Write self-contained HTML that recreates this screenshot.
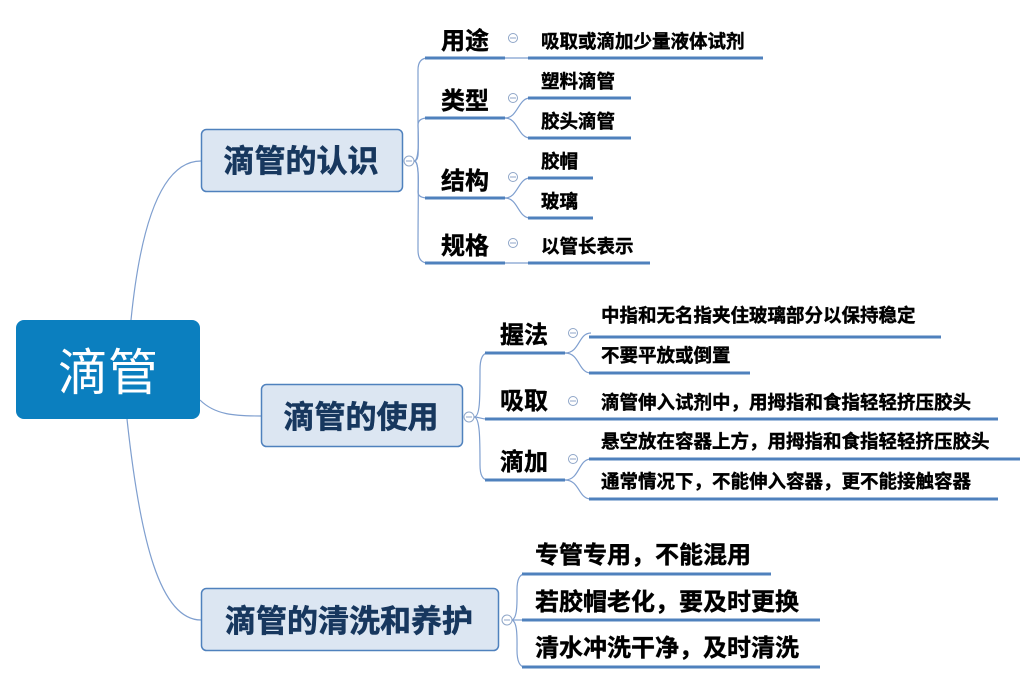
<!DOCTYPE html>
<html><head><meta charset="utf-8"><style>
html,body{margin:0;padding:0;background:#fff;}
svg{display:block;}
text{font-family:"Liberation Sans","Noto Sans CJK SC",sans-serif;font-weight:bold;fill:#000;stroke:#000;stroke-width:0.4;}
</style></head><body>
<svg width="1032" height="683" viewBox="0 0 1032 683" xmlns="http://www.w3.org/2000/svg">
<g fill="none" stroke="#7f9fcf" stroke-width="1.2">
<path d="M131 320 C140 230 160 161 201 161"/>
<path d="M200 400 C215 415 235 416 261 416"/>
<path d="M127 419 C140 540 160 620 201 620"/>
<path d="M414 161 C420 161 418 150 418 120 L418 70 Q418 58 428 58"/>
<path d="M414 161 C420 161 418 130 418 125 Q418 118 428 118"/>
<path d="M414 161 C420 161 418 190 418 192 Q418 198 428 198"/>
<path d="M414 161 C420 161 418 180 418 250 Q418 263 428 263"/>
<path d="M505 58 L528 58"/>
<path d="M505 118 C518 118 518 98 530 98"/><path d="M505 118 C518 118 518 138 530 138"/>
<path d="M505 198 C518 198 518 178 530 178"/><path d="M505 198 C518 198 518 218 530 218"/>
<path d="M505 263 L528 263"/>
<path d="M474 417 C480 417 480 400 480 370 Q480 353 488 353"/>
<path d="M474 417 C480 417 480 419 488 419"/>
<path d="M474 417 C480 417 480 440 480 465 Q480 480 488 480"/>
<path d="M565 353 C580 353 578 333 591 333"/><path d="M565 353 C580 353 578 373 591 373"/>
<path d="M565 480 C580 480 578 459 591 459"/><path d="M565 480 C580 480 578 499 591 499"/>
<path d="M511 620 C518 620 517 600 517 590 Q517 574 525 574"/>
<path d="M511 620 L525 620"/>
<path d="M511 620 C518 620 517 640 517 650 Q517 667 525 667"/>
</g>
<g stroke="#4f81bd" stroke-width="3" fill="none">
<path d="M425 58H505M528 58H763"/>
<path d="M425 118H505M528 98H631M528 138H631"/>
<path d="M425 198H505M528 178H593M528 218H593"/>
<path d="M425 263H505M528 263H650"/>
<path d="M485 353H565M589 337H941M589 373H750"/>
<path d="M485 419H589M589 419H998"/>
<path d="M485 480H565M589 459H1020M589 499H998"/>
<path d="M522 574H771M522 620H820M522 667H820"/>
</g>
<g fill="#fff" stroke="#8fa6c8" stroke-width="1">
<circle cx="409" cy="161" r="5"/><circle cx="469" cy="417" r="5"/><circle cx="507" cy="620" r="5"/>
<circle cx="513" cy="38" r="4.5"/><circle cx="513" cy="98" r="4.5"/><circle cx="513" cy="177" r="4.5"/><circle cx="513" cy="243" r="4.5"/>
<circle cx="573" cy="333" r="4.5"/><circle cx="573" cy="401" r="4.5"/><circle cx="573" cy="459" r="4.5"/>
</g>
<g stroke="#8fa6c8" stroke-width="1">
<path d="M406 161h6M466 417h6M504 620h6M510 38h6M510 98h6M510 177h6M510 243h6M570 333h6M570 401h6M570 459h6"/>
</g>
<rect x="16" y="320" width="184" height="99" rx="8" fill="#0b7fbf"/>
<text x="108" y="390" font-size="50" text-anchor="middle" style="fill:#fff;stroke:none;font-weight:normal">滴管</text>
<rect x="201.5" y="129.5" width="201" height="62" rx="5" fill="#dce6f2" stroke="#4f81bd" stroke-width="1.5"/>
<text x="301" y="172" font-size="31" text-anchor="middle" style="fill:#17375e;stroke:#17375e;stroke-width:0.6">滴管的认识</text>
<rect x="261.5" y="384.5" width="201" height="62" rx="5" fill="#dce6f2" stroke="#4f81bd" stroke-width="1.5"/>
<text x="361" y="428" font-size="31" text-anchor="middle" style="fill:#17375e;stroke:#17375e;stroke-width:0.6">滴管的使用</text>
<rect x="201.5" y="588.5" width="297" height="62" rx="5" fill="#dce6f2" stroke="#4f81bd" stroke-width="1.5"/>
<text x="349" y="632" font-size="31" text-anchor="middle" style="fill:#17375e;stroke:#17375e;stroke-width:0.6">滴管的清洗和养护</text>
<g font-size="24">
<text x="441" y="49">用途</text><text x="441" y="109">类型</text><text x="441" y="189">结构</text><text x="441" y="254">规格</text>
<text x="500" y="343">握法</text><text x="500" y="409">吸取</text><text x="500" y="470">滴加</text>
</g>
<g font-size="18.5">
<text x="541" y="48">吸取或滴加少量液体试剂</text>
<text x="541" y="88">塑料滴管</text><text x="541" y="128">胶头滴管</text>
<text x="541" y="168">胶帽</text><text x="541" y="208">玻璃</text>
<text x="541" y="253">以管长表示</text>
<text x="601" y="322">中指和无名指夹住玻璃部分以保持稳定</text>
<text x="601" y="362">不要平放或倒置</text>
<text x="601" y="409">滴管伸入试剂中，用拇指和食指轻轻挤压胶头</text>
<text x="601" y="448">悬空放在容器上方，用拇指和食指轻轻挤压胶头</text>
<text x="601" y="488">通常情况下，不能伸入容器，更不能接触容器</text>
</g>
<g font-size="24">
<text x="535" y="563">专管专用，不能混用</text>
<text x="535" y="610">若胶帽老化，要及时更换</text>
<text x="535" y="656">清水冲洗干净，及时清洗</text>
</g>
</svg>
</body></html>
